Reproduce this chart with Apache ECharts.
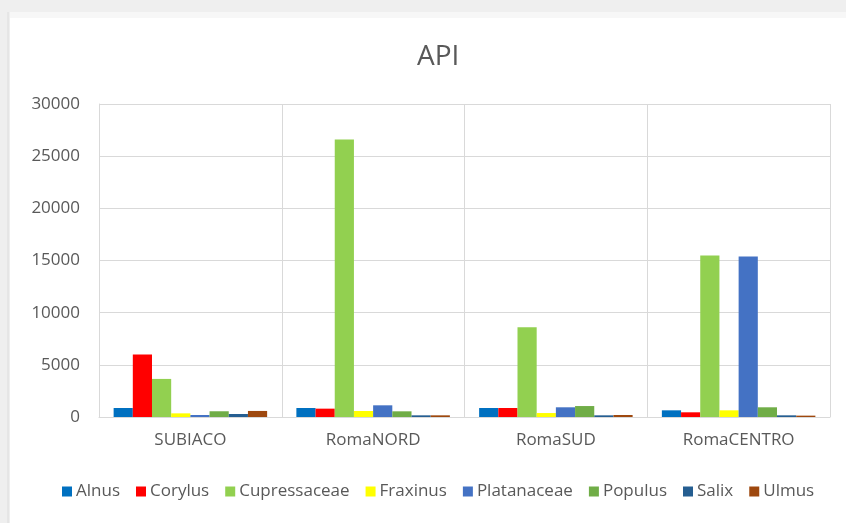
<!DOCTYPE html>
<html>
<head>
<meta charset="utf-8">
<style>
  html, body { margin: 0; padding: 0; background: #efefef; }
  #chart { width: 846px; height: 523px; }
</style>
<script src="https://cdn.jsdelivr.net/npm/echarts@6/dist/echarts.min.js"></script>
</head>
<body>
<div id="chart"></div>
<script>
// Sites on the x axis
const sites = ['SUBIACO', 'RomaNORD', 'RomaSUD', 'RomaCENTRO'];

// Pollen taxa, one series each
const taxa = ['Alnus', 'Corylus', 'Cupressaceae', 'Fraxinus', 'Platanaceae', 'Populus', 'Salix', 'Ulmus'];

// Annual pollen integral per taxon, ordered as the sites
const alnus        = [860, 860, 860, 640];
const corylus      = [6000, 800, 860, 450];
const cupressaceae = [3650, 26600, 8600, 15480];
const fraxinus     = [350, 575, 380, 640];
const platanaceae  = [190, 1120, 930, 15380];
const populus      = [550, 545, 1050, 930];
const salix        = [290, 160, 160, 160];
const ulmus        = [580, 160, 190, 130];

const yTicks = { min: 0, max: 30000, interval: 5000 };

const seriesValues = [alnus, corylus, cupressaceae, fraxinus, platanaceae, populus, salix, ulmus];
const palette = ['#0070C0', '#FF0000', '#92D050', '#FFFF00', '#4472C4', '#70AD47', '#255E91', '#9E480E'];

const chart = echarts.init(document.getElementById('chart'), null, { renderer: 'canvas' });

const textColor = '#595959';
const fontFamily = '"Open Sans", "Noto Sans", sans-serif';

chart.setOption({
  animation: false,
  backgroundColor: '#efefef',
  color: palette,
  graphic: [
    { type: 'rect', shape: { x: 10, y: 18, width: 836, height: 505 }, style: { fill: '#ffffff' }, z: -10 },
    { type: 'rect', shape: { x: 10, y: 12, width: 836, height: 6 }, style: { fill: '#f7f7f7' }, z: -10 },
    { type: 'line', shape: { x1: 8, y1: 12, x2: 8, y2: 523 }, style: { stroke: '#dcdcdc', lineWidth: 1 }, z: -9 }
  ],
  title: {
    text: 'API',
    left: 412,
    top: 38,
    textStyle: { color: textColor, fontSize: 28, fontWeight: 'normal', fontFamily: fontFamily }
  },
  legend: {
    data: taxa,
    bottom: 18,
    left: 57,
    itemWidth: 10,
    itemHeight: 10,
    itemGap: 16,
    icon: 'rect',
    textStyle: { color: textColor, fontSize: 17, fontFamily: fontFamily, padding: [0, 0, 0, -1] }
  },
  grid: { left: 99, right: 16, top: 104, bottom: 106, containLabel: false },
  xAxis: {
    type: 'category',
    data: sites,
    axisLine: { lineStyle: { color: '#d9d9d9', width: 1 } },
    axisTick: { show: false },
    axisLabel: { color: textColor, fontSize: 17, fontFamily: fontFamily, margin: 15 },
    splitLine: { show: true, lineStyle: { color: '#d9d9d9', width: 1 } }
  },
  yAxis: {
    type: 'value',
    min: yTicks.min,
    max: yTicks.max,
    interval: yTicks.interval,
    axisLine: { show: true, lineStyle: { color: '#d9d9d9' } },
    axisTick: { show: false },
    axisLabel: { color: textColor, fontSize: 17, fontFamily: fontFamily, margin: 19, formatter: v => String(v) },
    splitLine: { lineStyle: { color: '#d9d9d9', width: 1 } }
  },
  series: taxa.map((name, i) => ({
    name: name,
    type: 'bar',
    data: seriesValues[i],
    barGap: '0%',
    barCategoryGap: '16%',
    itemStyle: { color: palette[i] }
  }))
});
</script>
</body>
</html>
